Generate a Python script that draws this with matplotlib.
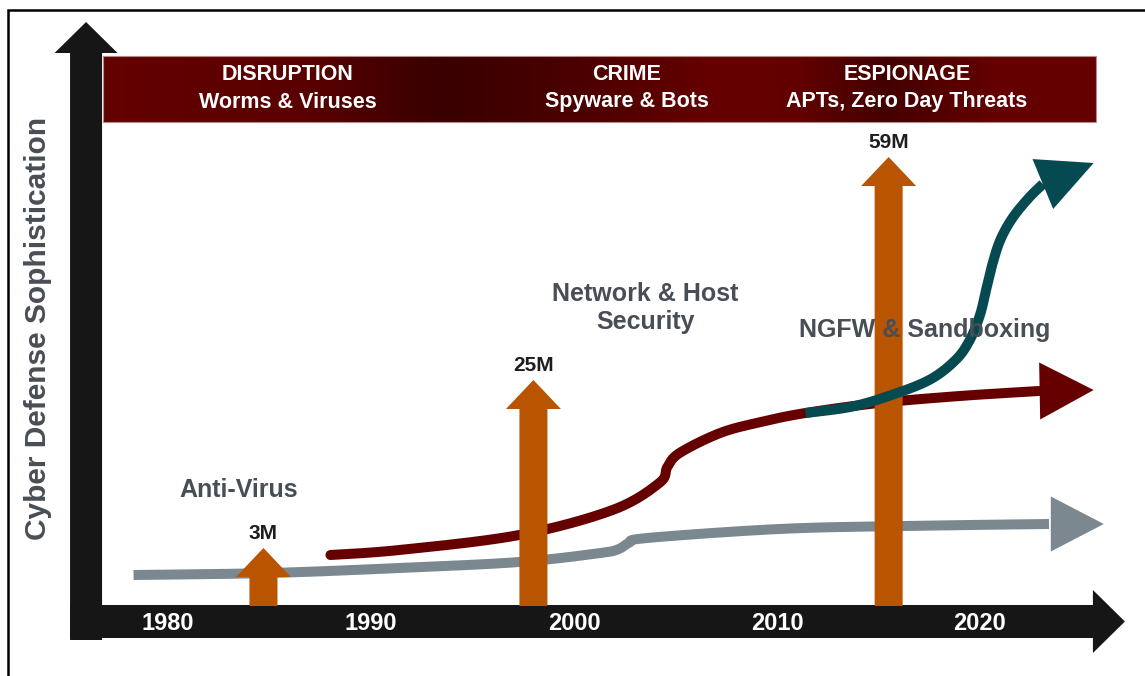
import numpy as np
import matplotlib.pyplot as plt
from matplotlib.colors import LinearSegmentedColormap
from matplotlib.patches import Polygon, Rectangle

plt.rcParams['font.family'] = ['Liberation Sans', 'DejaVu Sans']
plt.rcParams['font.weight'] = 'bold'

# timeline
decades = [1980, 1990, 2000, 2010, 2020]

# threat eras shown in the banner
eras = ['DISRUPTION', 'CRIME', 'ESPIONAGE']
era_threats = ['Worms & Viruses', 'Spyware & Bots', 'APTs, Zero Day Threats']
era_years = [1985.9, 2002.6, 2016.4]

# new malware counts (orange arrows)
malware_labels = ['3M', '25M', '59M']
malware_years = [1984.7, 1998.0, 2015.5]
malware_level = [58, 226, 449]

# defense curves (year, sophistication level)
av_years = [1978.3, 1985.0, 1991.4, 1997.3, 2001.3, 2002.2, 2002.7, 2003.6,
            2010.1, 2016.1, 2023.4]
av_level = [31, 33, 38, 44, 53, 57, 63, 68, 77, 80, 82]
av_tip = (2026.1, 82)

nhs_years = [1988.0, 1991.4, 1997.3, 2001.9, 2004.2, 2004.6, 2005.2, 2007.2,
             2009.2, 2011.4, 2015.0, 2019.0, 2022.9]
nhs_level = [51, 56, 71, 96, 123, 139, 153, 173, 184, 193, 203, 210, 215]
nhs_tip = (2025.6, 216)

ngfw_years = [2011.4, 2013.6, 2015.5, 2017.5, 2018.8, 2019.5, 2020.0, 2020.3,
              2020.6, 2021.0, 2021.6, 2022.4, 2023.1]
ngfw_level = [193, 199, 210, 226, 246, 266, 291, 316, 341, 366, 388, 408, 422]
ngfw_tip = (2025.6, 443)

defense_labels = ['Anti-Virus', 'Network & Host\nSecurity', 'NGFW & Sandboxing']
defense_label_pos = [(1983.5, 116), (2003.5, 298), (2017.3, 276)]

GRAY = '#7b8890'
RED = '#660000'
TEAL = '#064a51'
ORANGE = '#b95400'
BLACK = '#161616'
TEXT = '#484e55'


def catmull_rom(xs, ys, n=24):
    p = np.column_stack([xs, ys]).astype(float)
    p = np.vstack([p[0], p, p[-1]])
    out = []
    t = np.linspace(0, 1, n, endpoint=False)[:, None]
    for i in range(1, len(p) - 2):
        p0, p1, p2, p3 = p[i - 1], p[i], p[i + 1], p[i + 2]
        out.append(0.5 * ((2 * p1) + (-p0 + p2) * t
                          + (2 * p0 - 5 * p1 + 4 * p2 - p3) * t ** 2
                          + (-p0 + 3 * p1 - 3 * p2 + p3) * t ** 3))
    out.append(p[-2][None, :])
    pts = np.vstack(out)
    return pts[:, 0], pts[:, 1]


def block_arrow(ax, base, tip, shaft, head_w, head_len, color, z):
    # sizes in pixels, positions in data units
    b = ax.transData.transform(base)
    t = ax.transData.transform(tip)
    d = t - b
    u = d / np.hypot(*d)
    nrm = np.array([-u[1], u[0]])
    neck = t - u * head_len
    pts = [b + nrm * shaft / 2, neck + nrm * shaft / 2, neck + nrm * head_w / 2,
           t, neck - nrm * head_w / 2, neck - nrm * shaft / 2, b - nrm * shaft / 2]
    ax.add_patch(Polygon(ax.transData.inverted().transform(pts), closed=True,
                         fc=color, ec='none', zorder=z))


fig = plt.figure(figsize=(11.45, 6.76), dpi=100)
ax = fig.add_axes([0, 0, 1, 1])
ax.set_xlim(1971.72, 2028.13)
ax.set_ylim(-70, 606)
ax.axis('off')

# outer frame
ax.plot([0.007, 0.007, 1.0], [0.0, 0.985, 0.985], color='black', lw=1.8,
        transform=ax.transAxes, solid_joinstyle='miter', zorder=1)

# banner with gradient
cmap = LinearSegmentedColormap.from_list('banner', [
    (0.0, '#640000'), (0.2, '#5a0000'), (0.34, '#380000'), (0.48, '#4c0000'),
    (0.62, '#660000'), (0.7, '#620000'), (0.79, '#440000'), (0.9, '#640000'),
    (1.0, '#660000')])
ax.imshow(np.linspace(0, 1, 256)[None, :], cmap=cmap, aspect='auto',
          extent=(1976.8, 2025.7, 484, 550), zorder=2)
ax.add_patch(Rectangle((1976.8, 484), 2025.7 - 1976.8, 66, fill=False,
                       ec='#b58a8a', lw=0.8, zorder=2.5))
for yr, era, threat in zip(era_years, eras, era_threats):
    ax.text(yr, 531, era, color='white', fontsize=15.5, ha='center',
            va='center', zorder=3)
    ax.text(yr, 504, threat, color='white', fontsize=15.5, ha='center',
            va='center', zorder=3)

# black axis arrows
block_arrow(ax, (1975.96, -34), (1975.96, 584), 32, 63, 31, BLACK, 4)
block_arrow(ax, (1975.17, -15.5), (2027.14, -15.5), 33, 63, 32, BLACK, 4)
for d in decades:
    ax.text(d, -18, str(d), color='white', fontsize=17, ha='center',
            va='center', zorder=5)

ax.text(1973.6, 278, 'Cyber Defense Sophistication', color=TEXT,
        fontsize=21.5, rotation=90, ha='center', va='center', zorder=5)

# defense curves
x, y = catmull_rom(av_years, av_level)
ax.plot(x, y, color=GRAY, lw=7.2, solid_capstyle='butt', zorder=6)
block_arrow(ax, (av_years[-1], av_level[-1]), av_tip, 0, 55, 53, GRAY, 6)

x, y = catmull_rom(nhs_years, nhs_level)
ax.plot(x, y, color=RED, lw=7.2, solid_capstyle='round', zorder=7)
block_arrow(ax, (nhs_years[-1], nhs_level[-1]), nhs_tip, 0, 57, 54, RED, 7)

# malware arrows
for yr, lvl, lab in zip(malware_years, malware_level, malware_labels):
    block_arrow(ax, (yr, 0), (yr, lvl), 28, 55, 29, ORANGE, 8)
    ax.text(yr, lvl + 9, lab, color='#1e1e1e', fontsize=15, ha='center',
            va='baseline', zorder=10)

x, y = catmull_rom(ngfw_years, ngfw_level)
ax.plot(x, y, color=TEAL, lw=7.2, solid_capstyle='butt', zorder=9)
block_arrow(ax, (ngfw_years[-1], ngfw_level[-1]), ngfw_tip, 0, 54, 55, TEAL, 9)

for lab, (px, py) in zip(defense_labels, defense_label_pos):
    ax.text(px, py, lab, color=TEXT, fontsize=18, ha='center', va='center',
            linespacing=1.25, zorder=11)

fig.savefig('out.png', dpi=100)
